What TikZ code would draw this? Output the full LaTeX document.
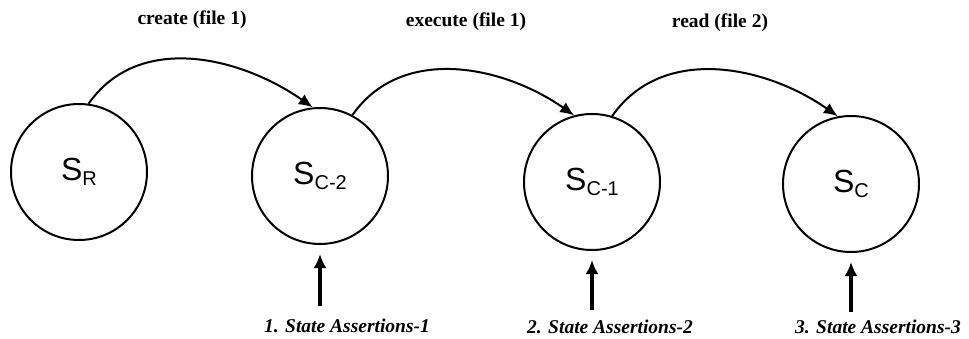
\documentclass[tikz,border=0pt]{standalone}
\usepackage{fontspec}
\setmainfont{Liberation Serif}
\newfontfamily\statefont{Liberation Sans}
\usetikzlibrary{arrows.meta}
\begin{document}
\begin{tikzpicture}[x=1pt,y=-1pt,
  state/.style={circle,draw,line width=2pt,minimum size=136pt,inner sep=0pt},
  toplabel/.style={font=\fontsize{19.5}{20}\selectfont\bfseries},
  botlabel/.style={font=\fontsize{19.5}{20}\selectfont\bfseries\itshape},
  trans/.style={line width=2pt,-{Latex[length=14pt,width=12pt]}},
  uparrow/.style={line width=3.2pt,-{Latex[length=14pt,width=13pt]},shorten >=9pt}]
\useasboundingbox (0,0) rectangle (969,338);
\newcommand{\stlabel}[1]{{\statefont\fontsize{32}{32}\selectfont S\raisebox{-5pt}{\fontsize{20}{20}\selectfont #1}}}
\node[state] (sr) at (79,172) {\stlabel{R}};
\node[state] (s2) at (320,176) {\stlabel{C-2}};
\node[state] (s1) at (592,182) {\stlabel{C-1}};
\node[state] (sc) at (851,184) {\stlabel{C}};
\node[toplabel] (l1) at (192,20) {create (file 1)};
\node[toplabel] (l2) at (466,22) {execute (file 1)};
\node[toplabel] (l3) at (720,23) {read (file 2)};
\draw[trans] (sr.82) to[out=55,in=145] (s2.96);
\draw[trans] (s2.62) to[out=55,in=145] (s1.105);
\draw[trans] (s1.73) to[out=55,in=145] (sc.101);
\node[botlabel] (b1) at (347,326) {1. State Assertions-1};
\node[botlabel] (b2) at (610,327) {2. State Assertions-2};
\node[botlabel] (b3) at (878,327) {3. State Assertions-3};
\coordinate (a1) at (320,306);
\coordinate (a2) at (592,310);
\coordinate (a3) at (851,312);
\draw[uparrow] (a1) -- (s2);
\draw[uparrow] (a2) -- (s1);
\draw[uparrow] (a3) -- (sc);
\end{tikzpicture}
\end{document}
